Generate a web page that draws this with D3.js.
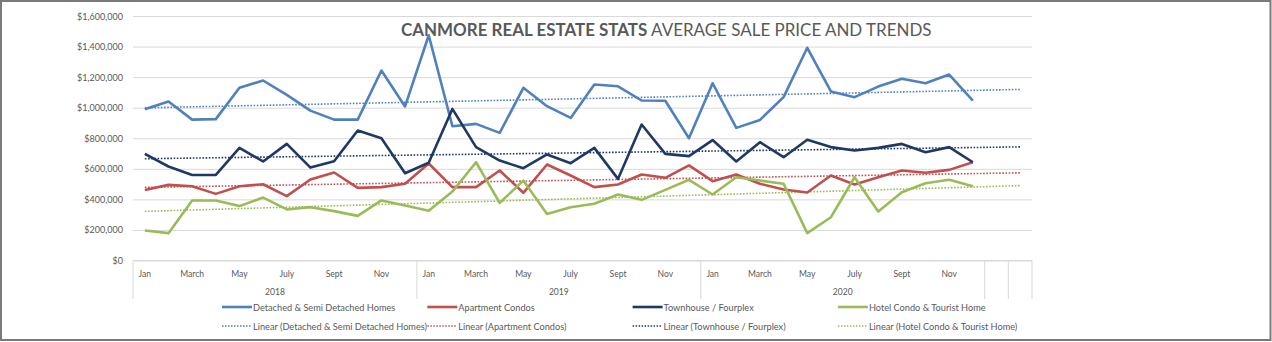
<!DOCTYPE html>
<html>
<head>
<meta charset="utf-8">
<script src="https://cdn.jsdelivr.net/npm/d3@7"></script>
<style>
  body { margin: 0; background: #fff; }
  svg { display: block; }
  text { font-family: Lato, "Open Sans", sans-serif; fill: #595959; }
</style>
</head>
<body>
<script>
// months shown on the axis (every second category), years for the second level
var monthTicks = ["Jan", "March", "May", "July", "Sept", "Nov"];
var years = ["2018", "2019", "2020"];
var yTicks = [0, 200000, 400000, 600000, 800000, 1000000, 1200000, 1400000, 1600000];

var detached = [990000, 1040000, 922000, 925000, 1130000, 1178000, 1084000, 981000, 922000, 922000, 1243000, 1008000,
                1474000, 879000, 894000, 835000, 1130000, 1010000, 933000, 1152000, 1140000, 1047000, 1045000, 800000,
                1160000, 868000, 920000, 1069000, 1392000, 1106000, 1069000, 1138000, 1189000, 1160000, 1217000, 1047000];
var apartment = [462000, 495000, 486000, 436000, 486000, 499000, 421000, 530000, 576000, 475000, 480000, 502000,
                 635000, 480000, 480000, 589000, 443000, 628000, 556000, 480000, 497000, 563000, 541000, 622000,
                 519000, 563000, 502000, 465000, 445000, 556000, 497000, 545000, 589000, 574000, 593000, 643000];
var townhouse = [698000, 615000, 560000, 560000, 737000, 648000, 763000, 608000, 650000, 851000, 800000, 571000,
                 640000, 992000, 742000, 654000, 604000, 694000, 637000, 737000, 534000, 890000, 698000, 683000,
                 788000, 648000, 774000, 676000, 790000, 742000, 720000, 737000, 763000, 709000, 742000, 643000];
var hotel = [196000, 179000, 393000, 393000, 356000, 412000, 334000, 349000, 323000, 292000, 393000, 360000,
             325000, 451000, 643000, 377000, 523000, 305000, 349000, 371000, 432000, 397000, 462000, 528000,
             432000, 545000, 523000, 502000, 179000, 283000, 545000, 321000, 447000, 506000, 528000, 486000];

var seriesNames = ["Detached & Semi Detached Homes", "Apartment Condos", "Townhouse / Fourplex", "Hotel Condo & Tourist Home"];
var seriesColors = ["#4f81bd", "#c0504d", "#1f3864", "#9bbb59"];
var seriesValues = [detached, apartment, townhouse, hotel];

var W = 1272, H = 342;
var svg = d3.select("body").append("svg").attr("width", W).attr("height", H);

// squeeze text sideways a bit, the original font is narrower than ours
var narrow = function(sel, k){
  sel.each(function(){
    var w = this.getComputedTextLength();
    d3.select(this).attr("textLength", w * k).attr("lengthAdjust", "spacingAndGlyphs");
  });
};

// 36 months + two empty one-category groups at the end (as in the sheet)
var nCat = years.length * 12 + 2;
var x = d3.scaleBand().domain(d3.range(nCat)).range([133, 1032]);
var y = d3.scaleLinear().domain([0, 1600000]).range([260.5, 16]);
var cx = function(i){ return x(i) + x.bandwidth() / 2; };

// gridlines + y labels
var yAxis = d3.axisLeft(y).tickValues(yTicks).tickFormat(d3.format("$,")).tickSize(-(1032 - 133)).tickPadding(10);
var gy = svg.append("g").attr("transform", "translate(133,0)").call(yAxis);
gy.select(".domain").remove();
gy.selectAll("line").attr("stroke", "#d9d9d9").attr("stroke-width", 1);
gy.selectAll("text").style("font-size", "9.5px").attr("fill", "#595959");
var wTop = gy.selectAll("text").filter(function(d){ return d === 1600000; }).node().getComputedTextLength();
narrow(gy.selectAll("text"), 46 / wTop);

// category axis, two levels
var axisY = 260.5, sepBottom = 299;
var groupEdges = [0, 12, 24, 36, 37, 38];
var gx = svg.append("g");
gx.append("line").attr("x1", 133).attr("x2", 1032).attr("y1", axisY).attr("y2", axisY)
  .attr("stroke", "#d9d9d9");
groupEdges.forEach(function(k){
  var xx = k < nCat ? x(k) : x.range()[1];
  gx.append("line").attr("x1", xx).attr("x2", xx).attr("y1", axisY).attr("y2", sepBottom)
    .attr("stroke", "#d9d9d9");
});
years.forEach(function(yr, j){
  monthTicks.forEach(function(m, k){
    gx.append("text").attr("x", cx(j * 12 + k * 2)).attr("y", 277)
      .attr("text-anchor", "middle").style("font-size", "9.5px").text(m);
  });
  gx.append("text").attr("x", (x(j * 12) + x(j * 12 + 11) + x.bandwidth()) / 2).attr("y", 295)
    .attr("text-anchor", "middle").style("font-size", "9.5px").text(yr);
});
narrow(gx.selectAll("text"), 0.9);

// linear trendlines (least squares over the data points, drawn over all categories)
function trend(vals){
  var n = vals.length, xs = d3.range(n);
  var mx = d3.mean(xs), my = d3.mean(vals);
  var sxy = d3.sum(xs, function(i){ return (i - mx) * (vals[i] - my); });
  var sxx = d3.sum(xs, function(i){ return (i - mx) * (i - mx); });
  var b = sxy / sxx, a = my - b * mx;
  return [[0, a], [nCat - 1, a + b * (nCat - 1)]];
}
var line = d3.line().x(function(d){ return cx(d[0]); }).y(function(d){ return y(d[1]); });

seriesValues.forEach(function(vals, s){
  svg.append("path").attr("d", line(trend(vals)))
    .attr("fill", "none").attr("stroke", seriesColors[s]).attr("stroke-width", 1.6)
    .attr("stroke-dasharray", "1.6 1.6");
});
seriesValues.forEach(function(vals, s){
  svg.append("path").attr("d", line(vals.map(function(v, i){ return [i, v]; })))
    .attr("fill", "none").attr("stroke", seriesColors[s]).attr("stroke-width", 2.6)
    .attr("stroke-linejoin", "round");
});

// title
var title = svg.append("text").attr("x", 401).attr("y", 36).style("font-size", "20px");
title.append("tspan").style("font-weight", "bold").text("CANMORE REAL ESTATE STATS");
title.append("tspan").text(" AVERAGE SALE PRICE AND TRENDS");
var tw = title.node().getComputedTextLength();
title.style("font-size", (20 * 531 / tw) + "px");

// legend
var legX = [222, 427.3, 632.6, 837.9];
var gl = svg.append("g");
seriesNames.forEach(function(name, s){
  gl.append("line").attr("x1", legX[s]).attr("x2", legX[s] + 30).attr("y1", 307).attr("y2", 307)
    .attr("stroke", seriesColors[s]).attr("stroke-width", 2.6);
  gl.append("text").attr("x", legX[s] + 31).attr("y", 310.5).style("font-size", "9.5px").text(name);
  gl.append("line").attr("x1", legX[s]).attr("x2", legX[s] + 30).attr("y1", 326).attr("y2", 326)
    .attr("stroke", seriesColors[s]).attr("stroke-width", 1.3).attr("stroke-dasharray", "1.5 1.5");
  gl.append("text").attr("x", legX[s] + 31).attr("y", 329.5).style("font-size", "9.5px").text("Linear (" + name + ")");
});
var wLeg = gl.selectAll("text").filter(function(){ return this.textContent === "Linear (" + seriesNames[0] + ")"; })
  .node().getComputedTextLength();
narrow(gl.selectAll("text"), 174 / wLeg);

// outer frame
svg.append("rect").attr("x", 1).attr("y", 1).attr("width", W - 2.5).attr("height", H - 3)
  .attr("fill", "none").attr("stroke", "#7a7a7a").attr("stroke-width", 2);
</script>
</body>
</html>
